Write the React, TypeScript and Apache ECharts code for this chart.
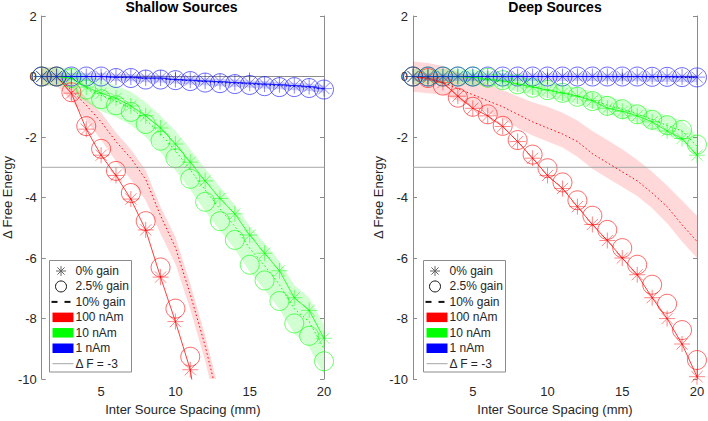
import { useEffect, useRef } from "react";
import * as echarts from "echarts";

// ---------- data ----------
const xValues = [1, 2, 3, 4, 5, 6, 7, 8, 9, 10, 11, 12, 13, 14, 15, 16, 17, 18, 19, 20];
const xTicks = [5, 10, 15, 20];
const yMin = -10;
const yMax = 2;
const yStep = 2;
const threshold = -3;
const panelTitles = ["Shallow Sources", "Deep Sources"];
const xAxisTitle = "Inter Source Spacing (mm)";
const yAxisTitle = "\u0394 Free Energy";
const legendLabels = ["0% gain", "2.5% gain", "10% gain", "100 nAm", "10 nAm", "1 nAm", "\u0394 F = -3"];

// Shallow sources — 100 nAm (red)
const shallowRed0 = [0, 0, -0.55, -1.74, -2.6, -3.27, -4.05, -5.07, -6.63, -8.1, -9.69, -12.8];
const shallowRed25 = [0, 0, -0.52, -1.64, -2.39, -3.12, -3.85, -4.78, -6.31, -7.67, -9.26];
const shallowRed10 = [0, 0, -0.45, -0.95, -1.5, -2.15, -2.7, -3.4, -4.6, -5.65, -7.2, -8.9, -10.9];
const shallowRed10Lo = [-0.3, -0.3, -0.8, -1.45, -2.1, -2.8, -3.4, -4.1, -5.2, -6.2, -7.7, -9.4, -11.4];
const shallowRed10Hi = [0.3, 0.3, -0.2, -0.7, -1.2, -1.85, -2.4, -3.1, -4.3, -5.3, -6.85, -8.55, -10.5];
// Shallow sources — 10 nAm (green)
const shallowGreen0 = [0, 0, -0.05, -0.35, -0.55, -0.72, -0.97, -1.3, -1.7, -2.23, -2.83, -3.45, -4.03, -4.54, -5.24, -5.84, -6.42, -7.31, -7.73, -8.65];
const shallowGreen25 = [0, 0, -0.05, -0.43, -0.75, -0.95, -1.17, -1.57, -2.12, -2.7, -3.38, -4.14, -4.78, -5.4, -6.22, -6.74, -7.42, -8.16, -8.57, -9.41];
const shallowGreen10 = [0, 0, -0.05, -0.38, -0.62, -0.82, -1.05, -1.42, -1.9, -2.45, -3.08, -3.75, -4.38, -4.95, -5.68, -6.25, -6.88, -7.68, -8.1, -9.0];
const shallowGreen10Lo = [-0.3, -0.3, -0.4, -0.85, -1.15, -1.35, -1.6, -2.0, -2.5, -3.1, -3.75, -4.45, -5.1, -5.7, -6.45, -7.05, -7.7, -8.5, -8.95, -9.85];
const shallowGreen10Hi = [0.3, 0.3, 0.28, 0.05, -0.12, -0.3, -0.5, -0.85, -1.3, -1.8, -2.4, -3.05, -3.65, -4.25, -4.95, -5.5, -6.1, -6.9, -7.3, -8.2];
// Shallow sources — 1 nAm (blue)
const shallowBlue0 = [0, 0, 0, 0, 0, -0.02, -0.02, -0.05, -0.05, -0.1, -0.12, -0.15, -0.17, -0.2, -0.22, -0.25, -0.27, -0.3, -0.33, -0.4];
const shallowBlue25 = [0, 0, 0, 0, 0, -0.05, -0.05, -0.1, -0.1, -0.12, -0.15, -0.2, -0.22, -0.25, -0.28, -0.32, -0.35, -0.35, -0.38, -0.43];
const shallowBlue10 = [0, 0, 0, 0, 0, -0.03, -0.04, -0.07, -0.08, -0.11, -0.14, -0.17, -0.2, -0.22, -0.25, -0.28, -0.3, -0.33, -0.36, -0.42];
const shallowBlue10Lo = [-0.12, -0.12, -0.12, -0.12, -0.12, -0.15, -0.16, -0.19, -0.2, -0.23, -0.26, -0.29, -0.32, -0.34, -0.37, -0.4, -0.42, -0.45, -0.48, -0.54];
const shallowBlue10Hi = [0.12, 0.12, 0.12, 0.12, 0.12, 0.09, 0.08, 0.05, 0.04, 0.01, -0.02, -0.05, -0.08, -0.1, -0.13, -0.16, -0.18, -0.21, -0.24, -0.3];

// Deep sources — 100 nAm (red)
const deepRed0 = [0, -0.05, -0.2, -0.65, -1.05, -1.3, -1.65, -2.15, -2.7, -3.27, -3.7, -4.3, -4.89, -5.42, -6.0, -6.55, -7.31, -8.0, -8.84, -9.92];
const deepRed25 = [0, -0.05, -0.3, -0.7, -1.0, -1.25, -1.63, -2.1, -2.58, -3.03, -3.5, -4.09, -4.6, -5.07, -5.67, -6.22, -6.88, -7.51, -8.38, -9.37];
const deepRed10 = [0, -0.1, -0.2, -0.4, -0.6, -0.8, -1.0, -1.25, -1.5, -1.7, -1.9, -2.15, -2.55, -2.85, -3.15, -3.45, -3.85, -4.3, -4.9, -5.45];
const deepRed10Lo = [-0.5, -0.55, -0.6, -0.8, -1.0, -1.2, -1.4, -1.7, -1.95, -2.15, -2.35, -2.65, -3.05, -3.35, -3.65, -3.95, -4.35, -4.85, -5.45, -6.0];
const deepRed10Hi = [0.5, 0.45, 0.35, 0.15, -0.05, -0.25, -0.45, -0.65, -0.85, -1.0, -1.2, -1.45, -1.8, -2.1, -2.4, -2.75, -3.15, -3.6, -4.1, -4.6];
// Deep sources — 10 nAm (green)
const deepGreen0 = [0, 0, 0, 0, -0.02, -0.1, -0.15, -0.25, -0.35, -0.45, -0.55, -0.65, -0.8, -1.05, -1.15, -1.3, -1.5, -1.8, -2.05, -2.6];
const deepGreen25 = [0, 0, 0, 0, 0, -0.04, -0.12, -0.26, -0.37, -0.45, -0.54, -0.67, -0.81, -0.97, -1.08, -1.25, -1.43, -1.61, -1.76, -2.25];
const deepGreen10 = [0, 0, 0, -0.01, -0.02, -0.06, -0.13, -0.24, -0.34, -0.44, -0.53, -0.64, -0.78, -0.95, -1.08, -1.24, -1.42, -1.62, -1.8, -2.3];
const deepGreen10Lo = [-0.25, -0.25, -0.25, -0.26, -0.27, -0.31, -0.38, -0.5, -0.6, -0.7, -0.8, -0.92, -1.06, -1.24, -1.38, -1.54, -1.74, -1.95, -2.15, -2.65];
const deepGreen10Hi = [0.25, 0.25, 0.25, 0.24, 0.23, 0.19, 0.12, 0.02, -0.08, -0.18, -0.26, -0.36, -0.5, -0.66, -0.78, -0.94, -1.1, -1.3, -1.45, -1.95];
// Deep sources — 1 nAm (blue)
const deepBlue0 = [0, 0, 0, 0, 0, 0, 0, 0, 0, 0, 0, 0, 0, 0, 0, 0, 0, 0, -0.01, -0.02];
const deepBlue25 = [0, 0, 0, 0, 0, 0, 0, 0, 0, 0, 0, 0, 0, 0, 0, 0, -0.01, -0.01, -0.02, -0.03];
const deepBlue10 = [0, 0, 0, 0, 0, 0, 0, 0, 0, 0, 0, 0, 0, -0.01, -0.01, -0.01, -0.02, -0.02, -0.03, -0.04];
const deepBlue10Lo = [-0.15, -0.15, -0.15, -0.15, -0.15, -0.15, -0.15, -0.15, -0.15, -0.15, -0.15, -0.15, -0.15, -0.16, -0.16, -0.16, -0.17, -0.17, -0.18, -0.19];
const deepBlue10Hi = [0.1, 0.1, 0.1, 0.1, 0.1, 0.1, 0.1, 0.1, 0.1, 0.1, 0.1, 0.1, 0.1, 0.09, 0.09, 0.09, 0.08, 0.08, 0.07, 0.06];

// ---------- styling ----------
const RED = "#ff0000";
const GREEN = "#00ff00";
const BLUE = "#0000ff";
const BAND = { [RED]: "rgba(255,0,0,0.15)", [GREEN]: "rgba(0,255,0,0.18)", [BLUE]: "rgba(0,0,255,0.17)" } as Record<string, string>;
const FONT = "'Liberation Sans', Arial, Helvetica, sans-serif";
const AXIS_COLOR = "#8c8c8c";
const TEXT_COLOR = "#262626";
const STAR = "path://M0,-10L0,10M-10,0L10,0M-7,-7L7,7M-7,7L7,-7";

type Group = { color: string; g0: number[]; g25: number[]; g10: number[]; lo: number[]; hi: number[] };

const panels: { groups: Group[] }[] = [
  {
    groups: [
      { color: RED, g0: shallowRed0, g25: shallowRed25, g10: shallowRed10, lo: shallowRed10Lo, hi: shallowRed10Hi },
      { color: GREEN, g0: shallowGreen0, g25: shallowGreen25, g10: shallowGreen10, lo: shallowGreen10Lo, hi: shallowGreen10Hi },
      { color: BLUE, g0: shallowBlue0, g25: shallowBlue25, g10: shallowBlue10, lo: shallowBlue10Lo, hi: shallowBlue10Hi },
    ],
  },
  {
    groups: [
      { color: RED, g0: deepRed0, g25: deepRed25, g10: deepRed10, lo: deepRed10Lo, hi: deepRed10Hi },
      { color: GREEN, g0: deepGreen0, g25: deepGreen25, g10: deepGreen10, lo: deepGreen10Lo, hi: deepGreen10Hi },
      { color: BLUE, g0: deepBlue0, g25: deepBlue25, g10: deepBlue10, lo: deepBlue10Lo, hi: deepBlue10Hi },
    ],
  },
];

const GRID_LEFT = [39, 413];
const GRID_W = [285, 284];
const GRID_TOP = 16;
const GRID_H = 366;

const pairs = (arr: number[]) => arr.map((v, i) => [xValues[i], v]);

function buildSeries() {
  const series: any[] = [];
  panels.forEach((p, pi) => {
    const axes = { xAxisIndex: pi, yAxisIndex: pi };
    p.groups.forEach((g) => {
      series.push({
        type: "custom", ...axes, silent: true, clip: true,
        data: [[xValues[0], 0]],
        renderItem: (_params: any, api: any) => {
          const upper = g.hi.map((v, i) => api.coord([xValues[i], v]));
          const lower = g.lo.map((v, i) => api.coord([xValues[i], v])).reverse();
          return { type: "polygon", shape: { points: upper.concat(lower) }, style: { fill: BAND[g.color] } };
        },
      });
    });
    series.push({
      type: "line", ...axes, silent: true, symbol: "none",
      data: [[xValues[0], threshold], [xValues[xValues.length - 1], threshold]],
      lineStyle: { color: "#a6a6a6", width: 1 },
    });
    p.groups.forEach((g) => {
      series.push({
        type: "line", ...axes, silent: true, symbol: "none",
        data: pairs(g.g10),
        lineStyle: { color: g.color, width: 1, type: [1.5, 2.5] },
      });
    });
    p.groups.forEach((g) => {
      series.push({
        type: "line", ...axes, silent: true,
        data: pairs(g.g0),
        symbol: STAR, symbolSize: 16,
        itemStyle: { color: g.color, borderColor: g.color, borderWidth: 0.8, opacity: 0.6 },
        lineStyle: { color: g.color, width: 0.9, opacity: 0.85 },
      });
      series.push({
        type: "scatter", ...axes, silent: true,
        data: pairs(g.g25),
        symbol: "circle", symbolSize: 19,
        itemStyle: { color: "rgba(0,0,0,0)", borderColor: g.color, borderWidth: 0.9, opacity: 0.65 },
      });
    });
  });
  return series;
}

function legendGraphic(ox: number) {
  const rows = legendLabels.map((_, i) => 271 + i * 15.45);
  const els: any[] = [];
  els.push({ type: "rect", shape: { x: 49.5 + ox, y: 260.5, width: 82, height: 111.5 }, style: { fill: "#fff", stroke: AXIS_COLOR, lineWidth: 1 } });
  const cx = 61 + ox;
  const s = 5;
  const d = 3.6;
  const starSegs = [[0, -s, 0, s], [-s, 0, s, 0], [-d, -d, d, d], [-d, d, d, -d]];
  starSegs.forEach((q) => {
    els.push({ type: "line", shape: { x1: cx + q[0], y1: rows[0] + q[1], x2: cx + q[2], y2: rows[0] + q[3] }, style: { stroke: "#666", lineWidth: 1 } });
  });
  els.push({ type: "circle", shape: { cx: cx, cy: rows[1], r: 5.5 }, style: { fill: "none", stroke: "#111", lineWidth: 1 } });
  els.push({ type: "line", shape: { x1: 51.5 + ox, y1: rows[2], x2: 57.5 + ox, y2: rows[2] }, style: { stroke: "#111", lineWidth: 2 } });
  els.push({ type: "line", shape: { x1: 64.5 + ox, y1: rows[2], x2: 70.5 + ox, y2: rows[2] }, style: { stroke: "#111", lineWidth: 2 } });
  [RED, GREEN, BLUE].forEach((c, i) => {
    els.push({ type: "rect", shape: { x: 52.5 + ox, y: rows[3 + i] - 4.75, width: 21, height: 9.5 }, style: { fill: c } });
  });
  els.push({ type: "line", shape: { x1: 52.5 + ox, y1: rows[6], x2: 73.5 + ox, y2: rows[6] }, style: { stroke: "#a6a6a6", lineWidth: 1 } });
  legendLabels.forEach((t, i) => {
    els.push({ type: "text", x: 75.5 + ox, y: rows[i], style: { text: t, fill: TEXT_COLOR, font: `12px ${FONT}`, verticalAlign: "middle", align: "left" } });
  });
  return { type: "group", z: 100, children: els };
}

export default function App() {
  const ref = useRef<HTMLDivElement>(null);
  useEffect(() => {
    if (!ref.current) return;
    const chart = echarts.init(ref.current, undefined, { renderer: "svg" });
    const grids = [0, 1].map((i) => ({ left: GRID_LEFT[i], top: GRID_TOP, width: GRID_W[i], height: GRID_H, show: false }));
    const xLabelFmt = (v: number) => (xTicks.includes(v) ? String(v) : "");
    const xAxes: any[] = [];
    const yAxes: any[] = [];
    [0, 1].forEach((i) => {
      xAxes.push({
        type: "value", gridIndex: i, min: xValues[0], max: xValues[xValues.length - 1], splitNumber: 4, position: "bottom",
        name: xAxisTitle, nameLocation: "middle", nameGap: 23,
        nameTextStyle: { fontSize: 13, color: TEXT_COLOR, fontFamily: FONT },
        axisLine: { show: true, lineStyle: { color: AXIS_COLOR, width: 1 } },
        axisTick: { show: true, inside: true, length: 4, customValues: xTicks, lineStyle: { color: AXIS_COLOR } },
        axisLabel: { customValues: xTicks, formatter: xLabelFmt, fontSize: 13, color: TEXT_COLOR, fontFamily: FONT, margin: 6 },
        splitLine: { show: false },
      });
      yAxes.push({
        type: "value", gridIndex: i, min: yMin, max: yMax, interval: yStep, position: "left",
        name: yAxisTitle, nameLocation: "middle", nameGap: 23,
        nameTextStyle: { fontSize: 13, color: TEXT_COLOR, fontFamily: FONT },
        axisLine: { show: true, lineStyle: { color: AXIS_COLOR, width: 1 } },
        axisTick: { show: true, inside: true, length: 4, lineStyle: { color: AXIS_COLOR } },
        axisLabel: { fontSize: 13, color: TEXT_COLOR, fontFamily: FONT, margin: 5 },
        splitLine: { show: false },
      });
    });
    [0, 1].forEach((i) => {
      xAxes.push({
        type: "value", gridIndex: i, min: xValues[0], max: xValues[xValues.length - 1], splitNumber: 4, position: "top",
        axisLine: { show: true, lineStyle: { color: AXIS_COLOR, width: 1 } },
        axisTick: { show: true, inside: true, length: 4, customValues: xTicks, lineStyle: { color: AXIS_COLOR } },
        axisLabel: { show: false }, splitLine: { show: false },
      });
      yAxes.push({
        type: "value", gridIndex: i, min: yMin, max: yMax, interval: yStep, position: "right",
        axisLine: { show: true, lineStyle: { color: AXIS_COLOR, width: 1 } },
        axisTick: { show: true, inside: true, length: 4, lineStyle: { color: AXIS_COLOR } },
        axisLabel: { show: false }, splitLine: { show: false },
      });
    });
    chart.setOption({
      animation: false,
      backgroundColor: "#ffffff",
      title: panelTitles.map((t, i) => ({
        text: t, left: GRID_LEFT[i] + GRID_W[i] / 2, top: 0, textAlign: "center", padding: 0,
        textStyle: { fontSize: 14, fontWeight: "bold", color: "#000", fontFamily: FONT },
      })),
      grid: grids,
      xAxis: xAxes,
      yAxis: yAxes,
      series: buildSeries(),
      graphic: [legendGraphic(0), legendGraphic(374)],
    });
    return () => chart.dispose();
  }, []);
  return <div ref={ref} style={{ position: "fixed", left: 0, top: 0, width: 708, height: 421 }} />;
}
